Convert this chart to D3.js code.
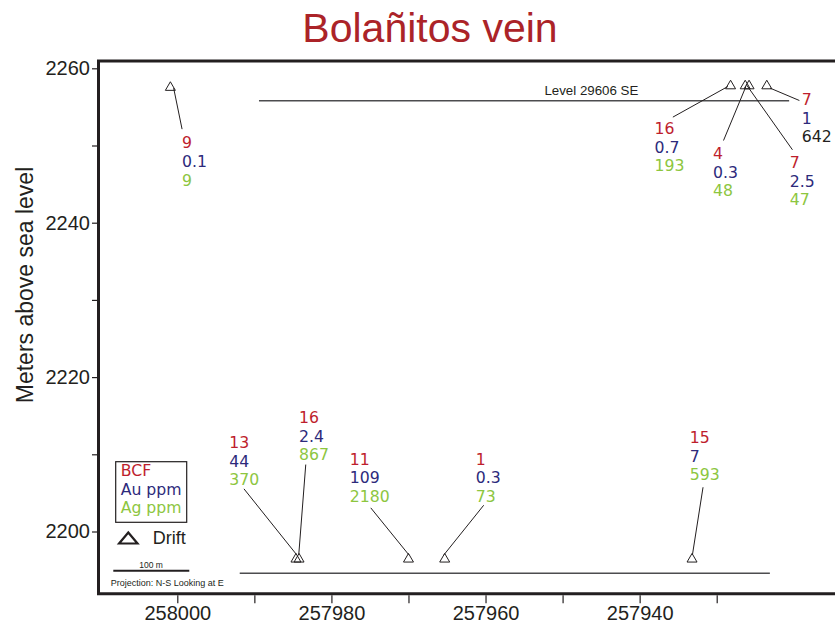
<!DOCTYPE html>
<html>
<head>
<meta charset="utf-8">
<title>Bolañitos vein</title>
<script src="https://cdn.jsdelivr.net/npm/d3@7"></script>
<style>
  html, body { margin: 0; padding: 0; background: #ffffff; }
  svg { display: block; }
</style>
</head>
<body>
<svg id="chart" width="835" height="623"></svg>
<script>
// Drift channel samples on the longitudinal section (easting m, elevation m a.s.l.)
const eastings   = [258000.9, 257928.2, 257926.3, 257925.8, 257923.5, 257984.6, 257984.2, 257970.0, 257965.3, 257933.2];
const elevations = [2257.7, 2257.9, 2257.9, 2257.9, 2257.9, 2196.6, 2196.6, 2196.6, 2196.6, 2196.6];
const bcfValues  = [9, 16, 4, 7, 7, 13, 16, 11, 1, 15];
const auPpm      = [0.1, 0.7, 0.3, 2.5, 1, 44, 2.4, 109, 0.3, 7];
const agPpm      = [9, 193, 48, 47, 642, 370, 867, 2180, 73, 593];

// Mine levels traced on the section: [east start, east end, elevation]
const levelNames = ["Level 29606 SE", ""];
const levelFrom  = [257989.4, 257991.9];
const levelTo    = [257920.6, 257923.1];
const levelElev  = [2255.8, 2194.6];

// Axis ticks
const xTicks      = [258000, 257990, 257980, 257970, 257960, 257950, 257940, 257930];
const xTickLabels = [258000, 257980, 257960, 257940];
const yTicks      = [2260, 2250, 2240, 2230, 2220, 2210, 2200];
const yTickLabels = [2260, 2240, 2220, 2200];

// Annotation layout (pixel offsets from each marker): label, leader start, leader end
const labelOffset = [[11.7, 62.1], [-76, 49.3], [-32.3, 74.3], [40.7, 83.3], [35, 20.3],
                     [-66.7, -109.9], [0, -134.9], [-58.7, -93.2], [31, -93.2], [-2.3, -114.9]];
const leaderStart = [[3.3, 2.1], [-2.7, 2], [0.7, 2], [-2.6, 0.3], [3.3, 3.6],
                     [0.7, -3], [-0.3, -3], [0.3, -3], [-0.7, -3], [0.4, -3]];
const leaderEnd   = [[11.7, 43.1], [-57.7, 32.6], [-21.7, 56], [43.4, 65.3], [32.6, 16],
                     [-52, -68.9], [6.7, -93.2], [-37.7, -49.9], [39, -52.5], [11, -70.5]];

const RED = "#be1e2d", BLUE = "#2d2a7b", GREEN = "#8dc63f", INK = "#231f20";
const VALUE_FONT = "'DejaVu Sans', Verdana, sans-serif";
const SANS = "'Liberation Sans', Arial, Helvetica, sans-serif";
const LINE_STEP = 18.8;

const svg = d3.select("#chart");

const x = d3.scaleLinear().domain([258000, 257930]).range([177.3, 716.7]);
const y = d3.scaleLinear().domain([2260, 2200]).range([68.3, 531.5]);

const frame = { left: 98.5, top: 61, bottom: 593.7, right: 900 };

// Title
svg.append("text")
  .attr("x", 430).attr("y", 42)
  .attr("text-anchor", "middle")
  .attr("font-family", SANS).attr("font-size", 41)
  .attr("fill", "#ab2328")
  .text("Bolañitos vein");

// Y axis title
svg.append("text")
  .attr("transform", "translate(32.5,285) rotate(-90)")
  .attr("text-anchor", "middle")
  .attr("font-family", SANS).attr("font-size", 23)
  .attr("fill", INK)
  .text("Meters above sea level");

// Axes (ticks and labels only; the frame is drawn separately)
const yAxis = d3.axisLeft(y)
  .tickValues(yTicks)
  .tickSize(5).tickPadding(2)
  .tickFormat(d => yTickLabels.includes(d) ? d3.format("d")(d) : "");
const gy = svg.append("g").attr("transform", `translate(${frame.left - 1.5},0)`).call(yAxis);

const xAxis = d3.axisBottom(x)
  .tickValues(xTicks)
  .tickSize(8).tickPadding(2.5)
  .tickFormat(d => xTickLabels.includes(d) ? d3.format("d")(d) : "");
const gx = svg.append("g").attr("transform", `translate(0,${frame.bottom + 1.5})`).call(xAxis);

[gx, gy].forEach(g => {
  g.select(".domain").remove();
  g.selectAll(".tick line").attr("stroke", INK).attr("stroke-width", 1.2);
  g.selectAll(".tick text").attr("font-family", SANS).attr("font-size", 20).attr("fill", INK);
});

// Plot frame (runs past the right edge)
svg.append("path")
  .attr("d", `M${frame.right},${frame.top}H${frame.left}V${frame.bottom}H${frame.right}`)
  .attr("fill", "none").attr("stroke", INK).attr("stroke-width", 3);

// Level traces
levelElev.forEach((z, i) => {
  svg.append("line")
    .attr("x1", x(levelFrom[i])).attr("x2", x(levelTo[i]))
    .attr("y1", y(z)).attr("y2", y(z))
    .attr("stroke", "#4d4d4f").attr("stroke-width", 1.4);
  if (levelNames[i]) {
    svg.append("text")
      .attr("x", 638.3).attr("y", y(z) - 5.7)
      .attr("text-anchor", "end")
      .attr("font-family", SANS).attr("font-size", 13.3)
      .attr("fill", INK)
      .text(levelNames[i]);
  }
});

// Sample markers, leaders and assay labels
const triangle = {
  draw(ctx) {
    const w = 5, h = 4.3;
    ctx.moveTo(0, -h);
    ctx.lineTo(w, h);
    ctx.lineTo(-w, h);
    ctx.closePath();
  }
};
const marker = d3.symbol().type(triangle)();

const samples = eastings.map((e, i) => ({
  px: x(e), py: y(elevations[i]),
  bcf: bcfValues[i], au: auPpm[i], ag: agPpm[i], i
}));

const g = svg.append("g");

g.selectAll("line.leader").data(samples).join("line")
  .attr("class", "leader")
  .attr("x1", d => d.px + leaderStart[d.i][0]).attr("y1", d => d.py + leaderStart[d.i][1])
  .attr("x2", d => d.px + leaderEnd[d.i][0]).attr("y2", d => d.py + leaderEnd[d.i][1])
  .attr("stroke", INK).attr("stroke-width", 1);

g.selectAll("path.drift").data(samples).join("path")
  .attr("class", "drift")
  .attr("transform", d => `translate(${d.px},${d.py})`)
  .attr("d", marker)
  .attr("fill", "none").attr("stroke", INK).attr("stroke-width", 1);

const labels = g.selectAll("text.assay").data(samples).join("text")
  .attr("class", "assay")
  .attr("font-family", VALUE_FONT).attr("font-size", 15.7)
  .attr("transform", d => `translate(${d.px + labelOffset[d.i][0]},${d.py + labelOffset[d.i][1]})`);

labels.append("tspan").attr("x", 0).attr("y", 0).attr("fill", RED).text(d => d.bcf);
labels.append("tspan").attr("x", 0).attr("y", LINE_STEP).attr("fill", BLUE).text(d => d.au);
labels.append("tspan").attr("x", 0).attr("y", 2 * LINE_STEP)
  .attr("fill", d => d.ag === 642 ? INK : GREEN)
  .text(d => d.ag);

// Legend
const legend = svg.append("g");
legend.append("rect")
  .attr("x", 115.7).attr("y", 461.7).attr("width", 71).attr("height", 60.6)
  .attr("fill", "none").attr("stroke", INK).attr("stroke-width", 1.2);
[["BCF", RED, 476], ["Au ppm", BLUE, 495], ["Ag ppm", GREEN, 513.3]].forEach(([t, c, yy]) => {
  legend.append("text")
    .attr("x", 120.7).attr("y", yy)
    .attr("font-family", VALUE_FONT).attr("font-size", 15.7)
    .attr("fill", c).text(t);
});
legend.append("path")
  .attr("d", "M128.3,532.5L137.5,543.5L119.1,543.5Z")
  .attr("fill", "none").attr("stroke", INK).attr("stroke-width", 2.2).attr("stroke-linejoin", "miter");
legend.append("text")
  .attr("x", 152.7).attr("y", 544)
  .attr("font-family", SANS).attr("font-size", 18)
  .attr("fill", INK).text("Drift");

// Scale bar and projection note
legend.append("line")
  .attr("x1", 113.3).attr("x2", 189.3).attr("y1", 570.7).attr("y2", 570.7)
  .attr("stroke", INK).attr("stroke-width", 2);
legend.append("text")
  .attr("x", 151).attr("y", 567.7).attr("text-anchor", "middle")
  .attr("font-family", SANS).attr("font-size", 8.5)
  .attr("fill", INK).text("100 m");
legend.append("text")
  .attr("x", 110.7).attr("y", 586)
  .attr("font-family", SANS).attr("font-size", 9)
  .attr("fill", INK).text("Projection: N-S Looking at E");
</script>
</body>
</html>
